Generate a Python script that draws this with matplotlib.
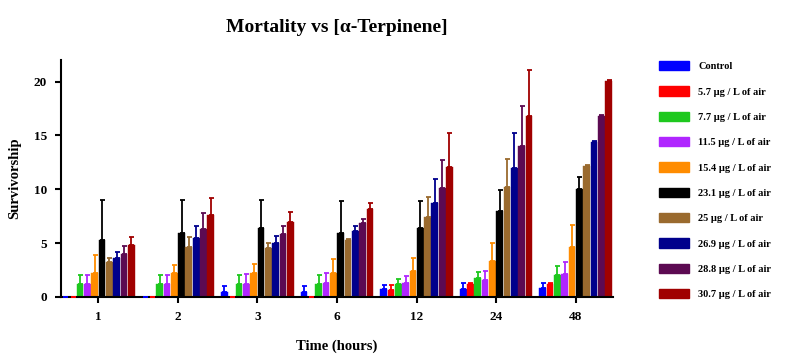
import numpy as np
import matplotlib
matplotlib.use("Agg")
import matplotlib.pyplot as plt
from matplotlib.patches import Patch

plt.rcParams['font.family'] = ['Liberation Serif', 'DejaVu Serif']
plt.rcParams['font.weight'] = 'bold'

# time points (hours)
times = ['1', '2', '3', '6', '12', '24', '48']

labels = ['Control', '5.7 µg / L of air', '7.7 µg / L of air', '11.5 µg / L of air',
          '15.4 µg / L of air', '23.1 µg / L of air', '25 µg / L of air',
          '26.9 µg / L of air', '28.8 µg / L of air', '30.7 µg / L of air']
colors = ['#0000ff', '#ff0000', '#1ec81e', '#b026ff', '#ff8c00',
          '#000000', '#9a6a2e', '#00008c', '#5c0a52', '#a00000']

# mean survivorship per dose
control = [0, 0, 0.5, 0.5, 0.7, 0.7, 0.8]
d5_7 = [0, 0, 0, 0, 0.6, 1.2, 1.2]
d7_7 = [1.2, 1.2, 1.2, 1.2, 1.2, 1.8, 2.0]
d11_5 = [1.2, 1.2, 1.2, 1.3, 1.3, 1.6, 2.1]
d15_4 = [2.2, 2.2, 2.2, 2.2, 2.4, 3.3, 4.6]
d23_1 = [5.3, 5.9, 6.4, 5.9, 6.4, 8.0, 10.0]
d25 = [3.2, 4.6, 4.5, 5.3, 7.4, 10.2, 12.2]
d26_9 = [3.6, 5.5, 5.0, 6.1, 8.7, 12.0, 14.4]
d28_8 = [4.0, 6.3, 5.8, 6.9, 10.1, 14.0, 16.8]
d30_7 = [4.8, 7.6, 7.0, 8.2, 12.1, 16.8, 20.1]

# upper error (SD)
e_control = [0, 0, 0.5, 0.5, 0.4, 0.6, 0.5]
e5_7 = [0, 0, 0, 0, 0.5, 0.1, 0.1]
e7_7 = [0.8, 0.8, 0.8, 0.8, 0.5, 0.5, 0.9]
e11_5 = [0.8, 0.8, 0.9, 0.9, 0.6, 0.8, 1.1]
e15_4 = [1.7, 0.8, 0.9, 1.3, 1.2, 1.7, 2.1]
e23_1 = [3.7, 3.1, 2.6, 3.0, 2.5, 1.9, 1.1]
e25 = [0.4, 1.0, 0.5, 0.1, 1.9, 2.6, 0.1]
e26_9 = [0.6, 1.1, 0.7, 0.5, 2.3, 3.2, 0.1]
e28_8 = [0.7, 1.5, 0.8, 0.3, 2.6, 3.7, 0.1]
e30_7 = [0.8, 1.6, 0.9, 0.5, 3.1, 4.3, 0.1]

means = [control, d5_7, d7_7, d11_5, d15_4, d23_1, d25, d26_9, d28_8, d30_7]
errs = [e_control, e5_7, e7_7, e11_5, e15_4, e23_1, e25, e26_9, e28_8, e30_7]

fig = plt.figure(figsize=(8.12, 3.56), dpi=100)
ax = fig.add_axes([0.075, 0.166, 0.680, 0.665])

x = np.arange(len(times))
step = 0.092
n = len(means)
for i, (m, e, c) in enumerate(zip(means, errs, colors)):
    pos = x + (i - (n - 1) / 2) * step
    ax.bar(pos, m, width=step * 0.92, color=c, edgecolor=c, linewidth=0.3, zorder=2)
    ax.errorbar(pos, m, yerr=[np.zeros(len(m)), e], fmt='none', ecolor=c,
                elinewidth=1.3, capsize=1.8, capthick=1.3, zorder=3)

ax.set_xlim(-0.47, 6.47)
ax.set_ylim(0, 22)
ax.set_xticks(x)
ax.set_xticklabels(times)
ax.set_yticks([0, 5, 10, 15, 20])
for s in ['top', 'right']:
    ax.spines[s].set_visible(False)
for s in ['left', 'bottom']:
    ax.spines[s].set_linewidth(1.5)
ax.tick_params(axis='both', direction='out', width=1.5, length=4, labelsize=9.5, pad=6)

ax.set_title('Mortality vs [α-Terpinene]', fontsize=14, fontweight='bold', pad=20)
ax.set_xlabel('Time (hours)', fontsize=10.5, fontweight='bold', labelpad=12)
ax.set_ylabel('Survivorship', fontsize=10.5, fontweight='bold', labelpad=9)

handles = [Patch(facecolor=c, edgecolor=c) for c in colors]
fig.legend(handles, labels, loc='upper left', bbox_to_anchor=(0.806, 0.84),
           frameon=False, fontsize=7.5, labelspacing=1.45, handlelength=2.9,
           handleheight=1.0, handletextpad=0.9, borderaxespad=0)

fig.savefig('out.png', dpi=100)
